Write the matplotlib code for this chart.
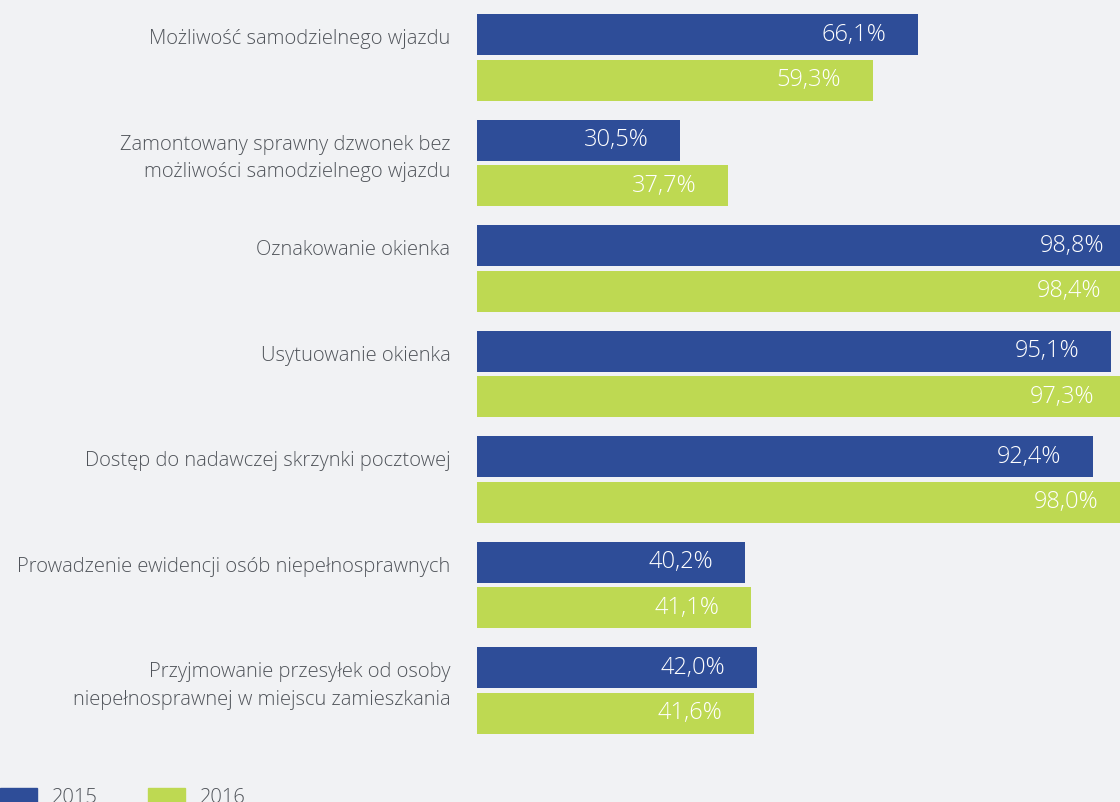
import matplotlib.pyplot as plt
from matplotlib.patches import Rectangle
import numpy as np

categories = [
    "Możliwość samodzielnego wjazdu",
    "Zamontowany sprawny dzwonek bez\nmożliwości samodzielnego wjazdu",
    "Oznakowanie okienka",
    "Usytuowanie okienka",
    "Dostęp do nadawczej skrzynki pocztowej",
    "Prowadzenie ewidencji osób niepełnosprawnych",
    "Przyjmowanie przesyłek od osoby\nniepełnosprawnej w miejscu zamieszkania",
]
v2015 = [66.1, 30.5, 98.8, 95.1, 92.4, 40.2, 42.0]
v2016 = [59.3, 37.7, 98.4, 97.3, 98.0, 41.1, 41.6]
years = ["2015", "2016"]

bg = "#f1f2f4"
blue = "#2e4d98"
green = "#bed952"
grey = "#50545a"
label_font = ["Open Sans", "DejaVu Sans"]

fig = plt.figure(figsize=(11.2, 8.02), dpi=100, facecolor=bg)
ax = fig.add_axes([477 / 1120, 0, 667 / 1120, 1])
ax.set_facecolor(bg)

y = np.arange(len(categories))
off = 0.217
h = 0.39
ax.barh(y - off, v2015, height=h, color=blue, left=0)
ax.barh(y + off, v2016, height=h, color=green, left=0)
ax.set_xlim(0, 100)
ax.set_ylim(7.057, -0.545)
ax.axis("off")

# value labels sit inside the bar, right aligned; long bars run past the page edge
for vals, dy in ((v2015, -off), (v2016, off)):
    for yi, v in zip(y, vals):
        ax.text(v - 4.8, yi + dy, f"{v:.1f}%".replace(".", ","), color="white",
                ha="right", va="center", fontsize=17,
                family=["Open Sans", "DejaVu Sans"], fontweight="light")

for yi, c in zip(y, categories):
    ax.text(-4.0, yi - off - 0.05, c, ha="right", va="top", fontsize=14.5,
            color=grey, linespacing=1.5, family=label_font, fontweight="light")

# legend along the bottom edge
for x0, col, lab in ((0, blue, years[0]), (148, green, years[1])):
    fig.patches.append(Rectangle((x0 / 1120, -0.01), 37 / 1120, 14 / 802 + 0.01,
                                 transform=fig.transFigure, color=col))
    fig.text((x0 + 52) / 1120, 1 - 788 / 802, lab, ha="left", va="top",
             fontsize=14.5, color=grey, family=label_font, fontweight="light")

fig.savefig("out.png", dpi=100, facecolor=bg)
